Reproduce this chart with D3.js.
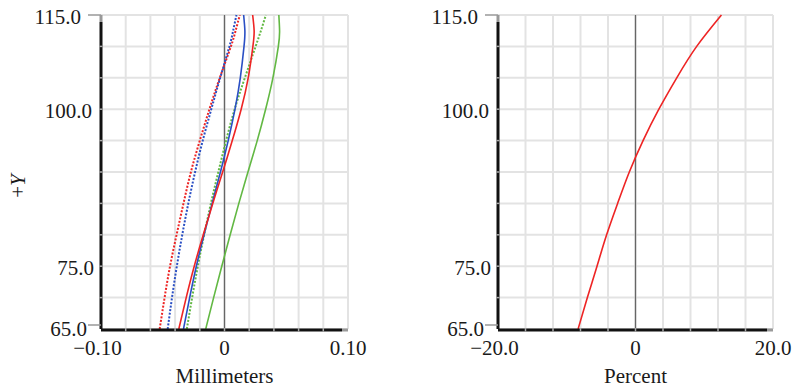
<!DOCTYPE html>
<html>
<head>
<meta charset="utf-8">
<script src="https://cdn.jsdelivr.net/npm/d3@7"></script>
<style>
  body { margin: 0; background: #fff; }
  svg { display: block; }
  text { font-family: "Liberation Serif", "Times New Roman", serif; fill: #1a1a1a; }
</style>
</head>
<body>
<div id="chart"></div>
<script>
// field heights (+Y) at which the curves were read
const fieldY = [65, 70, 75, 80, 85, 90, 95, 100, 105, 110, 112.5, 115];

// field curvature, millimeters
const tanRed   = [-0.0370, -0.0310, -0.0245, -0.0172, -0.0095, -0.0015, 0.0063, 0.0135, 0.0192, 0.0230, 0.0240, 0.0228];
const tanBlue  = [-0.0332, -0.0282, -0.0228, -0.0166, -0.0100, -0.0033, 0.0030, 0.0085, 0.0128, 0.0158, 0.0165, 0.0155];
const tanGreen = [-0.0152, -0.0088, -0.0022, 0.0046, 0.0116, 0.0190, 0.0265, 0.0333, 0.0392, 0.0436, 0.0446, 0.0440];
const sagRed   = [-0.0525, -0.0485, -0.0441, -0.0388, -0.0332, -0.0272, -0.0200, -0.0122, -0.0038, 0.0052, 0.0090, 0.0124];
const sagBlue  = [-0.0460, -0.0425, -0.0386, -0.0342, -0.0293, -0.0238, -0.0176, -0.0107, -0.0035, 0.0040, 0.0070, 0.0097];
const sagGreen = [-0.0305, -0.0262, -0.0216, -0.0165, -0.0110, -0.0050, 0.0013, 0.0082, 0.0165, 0.0252, 0.0295, 0.0335];

// distortion, percent
const distY = [65, 70, 75, 80, 85, 90, 95, 100, 105, 110, 115];
const distortion = [-8.35, -7.0, -5.6, -4.2, -2.6, -0.9, 1.1, 3.4, 6.0, 8.9, 12.5];

const yTicks = [65, 75, 100, 115];
const mmTicks = [-0.10, 0, 0.10];
const pctTicks = [-20, 0, 20];

const W = 795, H = 388;
const svg = d3.select("#chart").append("svg")
    .attr("width", W)
    .attr("height", H);

const RED = "#ee2424", BLUE = "#2a4fc4", GREEN = "#62b843";
const FONT = 21;

// offset of each y label's right end from the axis (labels in the source are not aligned)
const yLabelGap = { 115: 20, 100: 9, 75: 7, 65: 14 };

function drawPanel(opts) {
    const x = d3.scaleLinear().domain(opts.xDomain).range(opts.xRange);
    const y = d3.scaleLinear().domain([65, 115]).range([329, 15]);
    const g = svg.append("g");
    const x0 = opts.xRange[0], x1 = opts.xRange[1];

    // grid
    const xGrid = d3.range(11).map(i => opts.xDomain[0] + i * (opts.xDomain[1] - opts.xDomain[0]) / 10);
    const yGrid = d3.range(11).map(i => 65 + i * 5);
    g.selectAll(".vg").data(xGrid).enter().append("line")
        .attr("x1", d => x(d)).attr("x2", d => x(d))
        .attr("y1", y(115)).attr("y2", y(65))
        .attr("stroke", "#e3e3e3").attr("stroke-width", 2);
    g.selectAll(".hg").data(yGrid).enter().append("line")
        .attr("x1", x0).attr("x2", x1)
        .attr("y1", d => y(d)).attr("y2", d => y(d))
        .attr("stroke", "#e3e3e3").attr("stroke-width", 2);

    // zero line
    g.append("line")
        .attr("x1", x(0)).attr("x2", x(0))
        .attr("y1", y(115)).attr("y2", y(65))
        .attr("stroke", "#666").attr("stroke-width", 1.3);

    // series
    const line = d3.line()
        .x(d => x(d[0]))
        .y(d => y(d[1]))
        .curve(d3.curveNatural);
    opts.series.forEach(s => {
        g.append("path")
            .attr("d", line(s.values.map((v, i) => [v, s.ys[i]])))
            .attr("fill", "none")
            .attr("stroke", s.color)
            .attr("stroke-width", s.dotted ? 2 : 1.6)
            .attr("stroke-dasharray", s.dotted ? "2,1.6" : null);
    });

    // axes: thick black lines with grey ticks
    g.append("line")
        .attr("x1", x0).attr("x2", x0)
        .attr("y1", y(115) + 7).attr("y2", y(65))
        .attr("stroke", "#111").attr("stroke-width", 3);
    g.append("line")
        .attr("x1", x0).attr("x2", x1 - 6)
        .attr("y1", y(65) + 1).attr("y2", y(65) + 1)
        .attr("stroke", "#111").attr("stroke-width", 3);
    g.append("line")
        .attr("x1", x0).attr("x2", x0)
        .attr("y1", y(115)).attr("y2", y(115) + 7)
        .attr("stroke", "#999").attr("stroke-width", 3);
    g.append("line")
        .attr("x1", x1 - 6).attr("x2", x1)
        .attr("y1", y(65) + 1).attr("y2", y(65) + 1)
        .attr("stroke", "#999").attr("stroke-width", 3);
    g.selectAll(".xt").data(xGrid.slice(1, 10)).enter().append("line")
        .attr("x1", d => x(d)).attr("x2", d => x(d))
        .attr("y1", y(65) - 1).attr("y2", y(65) + 2.5)
        .attr("stroke", "#aaa").attr("stroke-width", 1.5);
    g.selectAll(".yt").data(yGrid.slice(1, 10)).enter().append("line")
        .attr("x1", x0 - 1.5).attr("x2", x0 + 1.5)
        .attr("y1", d => y(d)).attr("y2", d => y(d))
        .attr("stroke", "#aaa").attr("stroke-width", 1.5);
    // end stubs
    [115, 65].forEach(v => {
        g.append("line")
            .attr("x1", x0 - 13).attr("x2", x0)
            .attr("y1", y(v) - (v === 65 ? 4 : 0)).attr("y2", y(v) - (v === 65 ? 4 : 0))
            .attr("stroke", "#999").attr("stroke-width", 1.5);
    });

    // tick labels
    const fmtY = d3.format(".1f");
    g.selectAll(".yl").data(yTicks).enter().append("text")
        .attr("x", d => x0 - yLabelGap[d])
        .attr("y", d => y(d) + (d === 65 ? 7 : 8.5))
        .attr("text-anchor", "end")
        .attr("font-size", FONT)
        .text(d => fmtY(d));
    g.selectAll(".xl").data(opts.xTicks).enter().append("text")
        .attr("x", d => x(d))
        .attr("y", 355)
        .attr("dx", d => d < 0 ? "-0.17em" : null)
        .attr("text-anchor", "middle")
        .attr("font-size", FONT)
        .text(d => d === 0 ? "0" : opts.xFormat(d).replace("-", "\u2212"));

    // axis title
    g.append("text")
        .attr("x", x(0))
        .attr("y", 383)
        .attr("text-anchor", "middle")
        .attr("font-size", FONT)
        .text(opts.title);
}

drawPanel({
    xDomain: [-0.10, 0.10],
    xRange: [101, 348],
    xTicks: mmTicks,
    xFormat: d3.format(".2f"),
    title: "Millimeters",
    series: [
        { values: sagRed, ys: fieldY, color: RED, dotted: true },
        { values: sagBlue, ys: fieldY, color: BLUE, dotted: true },
        { values: sagGreen, ys: fieldY, color: GREEN, dotted: true },
        { values: tanGreen, ys: fieldY, color: GREEN },
        { values: tanBlue, ys: fieldY, color: BLUE },
        { values: tanRed, ys: fieldY, color: RED }
    ]
});

drawPanel({
    xDomain: [-20, 20],
    xRange: [498, 773],
    xTicks: pctTicks,
    xFormat: d3.format(".1f"),
    title: "Percent",
    series: [
        { values: distortion, ys: distY, color: RED }
    ]
});

// +Y axis title, Y in italics
const yt = svg.append("text")
    .attr("transform", "translate(25,186) rotate(-90)")
    .attr("text-anchor", "middle")
    .attr("font-size", FONT);
yt.append("tspan").text("+");
yt.append("tspan").attr("font-style", "italic").text("Y");
</script>
</body>
</html>
